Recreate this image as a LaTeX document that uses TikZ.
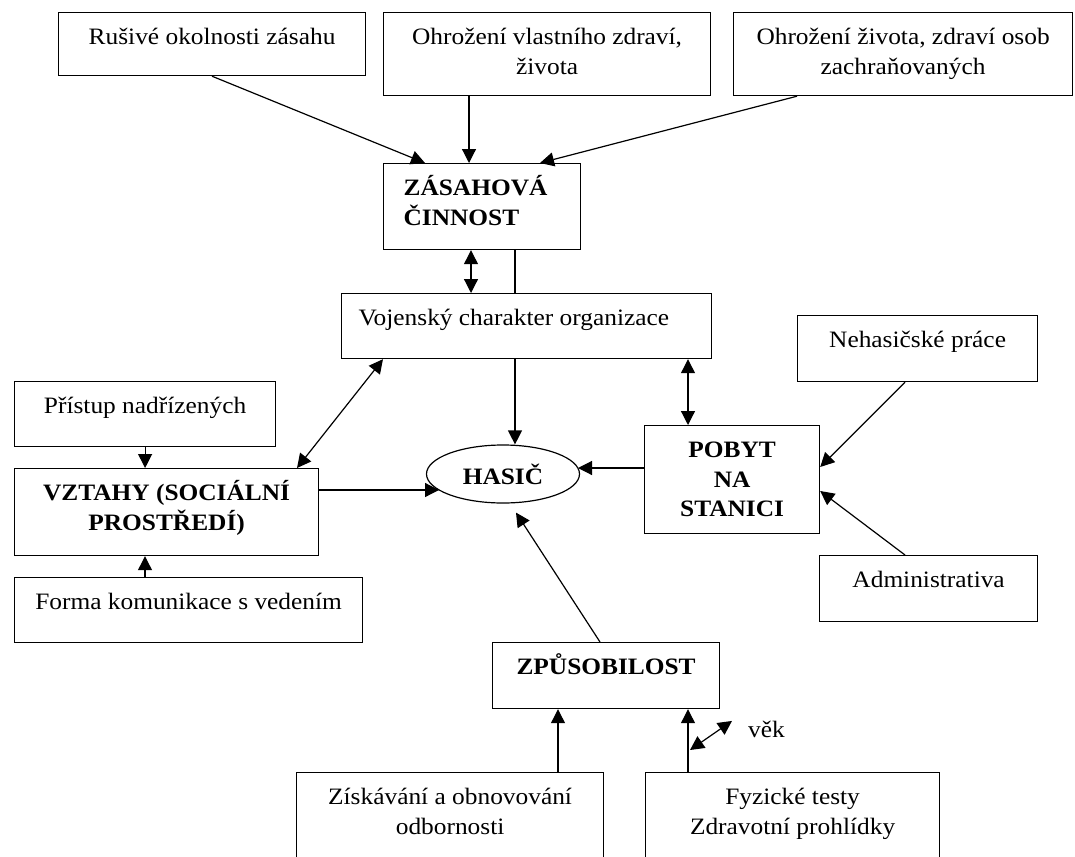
\documentclass[tikz,border=0pt]{standalone}
\usepackage{fontspec}
\setmainfont{Liberation Serif}[FakeStretch=1.08]
\usetikzlibrary{arrows.meta,shapes.geometric}
\newcommand{\bx}[3]{\parbox[c][#2pt][t]{#1pt}{\centering\rule{0pt}{32pt}#3\par}}
\newcommand{\bxl}[4]{\parbox[c][#2pt][t]{#1pt}{\raggedright\leftskip=#3pt\rule{0pt}{32pt}#4\par}}
\begin{document}
\begin{tikzpicture}[x=1pt,y=-1pt,
  box/.style={draw,line width=1.2pt,inner sep=0pt,anchor=north west,font=\fontsize{23.5}{29.5}\selectfont},
  bbox/.style={box,font=\fontsize{23.5}{29.5}\selectfont\bfseries},
  arr/.style={-{Triangle[length=14pt,width=14pt]},line width=1.2pt},
  darr/.style={{Triangle[length=14pt,width=14pt]}-{Triangle[length=14pt,width=14pt]},line width=1.2pt},
  ln/.style={line width=1.2pt}]
\useasboundingbox (0,0) rectangle (1075,856);
\node[box] (rus) at (58,12) {\bx{307}{63}{Rušivé okolnosti zásahu}};
\node[box] (ohv) at (383,12) {\bx{327}{83}{Ohrožení vlastního zdraví,\\života}};
\node[box] (ohz) at (733,12) {\bx{339}{83}{Ohrožení života, zdraví osob\\zachraňovaných}};
\node[bbox] (zas) at (383,163) {\bxl{197}{86}{20}{ZÁSAHOVÁ\\ČINNOST}};
\node[box] (voj) at (341,293) {\bxl{370}{65}{17}{Vojenský charakter organizace}};
\node[box] (neh) at (797,315) {\bx{240}{66}{Nehasičské práce}};
\node[box] (pri) at (14,381) {\bx{261}{65}{Přístup nadřízených}};
\node[bbox] (vzt) at (14,468) {\bx{304}{87}{VZTAHY (SOCIÁLNÍ\\PROSTŘEDÍ)}};
\node[draw,line width=1.2pt,ellipse,minimum width=153pt,minimum height=58pt,inner sep=0pt,font=\fontsize{23.5}{29.5}\selectfont\bfseries] (has) at (503,474) {HASIČ};
\node[bbox] (pob) at (644,425) {\bx{175}{108}{POBYT\\NA\\STANICI}};
\node[box] (adm) at (819,555) {\bx{218}{66}{Administrativa}};
\node[box] (for) at (14,577) {\bx{348}{65}{Forma komunikace s vedením}};
\node[bbox] (zpu) at (492,642) {\bx{227}{66}{ZPŮSOBILOST}};
\node[box] (zis) at (296,772) {\bx{307}{100}{Získávání a obnovování\\odbornosti}};
\node[box] (fyz) at (645,772) {\bx{294}{100}{Fyzické testy\\Zdravotní prohlídky}};
\node[anchor=base west,inner sep=0pt,font=\fontsize{23.5}{29.5}\selectfont] (vek) at (748,737) {věk};

\draw[arr] ([xshift=154]rus.south west) -- ([xshift=42]zas.north west);
\draw[arr] ([xshift=86]ohv.south west) -- ([xshift=86]zas.north west);
\draw[arr] ([xshift=64]ohz.south west) -- ([xshift=157]zas.north west);
\draw[darr] ([xshift=88]zas.south west) -- ([xshift=130]voj.north west);
\draw[ln] ([xshift=132]zas.south west) -- ([xshift=174]voj.north west);
\draw[arr] ([xshift=174]voj.south west) -- ([xshift=12]has.north);
\draw[darr] ([xshift=42]voj.south west) -- ([xshift=283]vzt.north west);
\draw[darr] ([xshift=347]voj.south west) -- ([xshift=44]pob.north west);
\draw[arr] ([xshift=108]neh.south west) -- ([yshift=-42]pob.north east);
\draw[arr] ([xshift=86]adm.north west) -- ([yshift=-66]pob.north east);
\draw[arr] (pob.west |- 0,468) -- ([xshift=75,yshift=6]has.center);
\draw[arr] (vzt.east |- 0,490) -- ([xshift=-64,yshift=-16]has.center);
\draw[arr] (pri.south) -- (pri.south |- vzt.north);
\draw[arr] ([xshift=131]for.north west) -- ([xshift=131]vzt.south west);
\draw[arr] ([xshift=108]zpu.north west) -- ([xshift=13,yshift=-9]has.south);
\draw[arr] ([xshift=262]zis.north west) -- ([xshift=66]zpu.south west);
\draw[arr] ([xshift=43]fyz.north west) -- ([xshift=196]zpu.south west);
\coordinate (vk) at ([xshift=45,yshift=22]fyz.north west);
\draw[darr] (vk) -- ([xshift=-16,yshift=8]vek.west);
\end{tikzpicture}
\end{document}
